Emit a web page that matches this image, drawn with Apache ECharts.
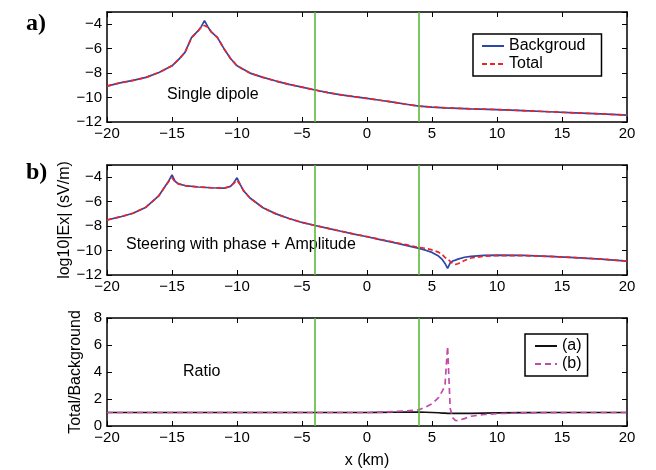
<!DOCTYPE html>
<html>
<head>
<meta charset="utf-8">
<script src="https://cdn.jsdelivr.net/npm/echarts@6/dist/echarts.min.js"></script>
<style>html,body{margin:0;padding:0;background:#fff}#c{width:656px;height:470px}</style>
</head>
<body>
<div id="c"></div>
<script>
// ---- data ----
var xTicks = [-20, -15, -10, -5, 0, 5, 10, 15, 20];
var boundaryX = [-4, 4];

var xsA = [-20,-19,-18,-17,-16,-15,-14.5,-14,-13.5,-13,-12.75,-12.5,-12.25,-12,-11.5,-11,-10.5,-10,-9,-8,-7,-6,-5,-4,-3,-2,-1,0,1,2,3,4,5,6,8,10,12,14,16,18,20];
var bgA  = [-9.06,-8.8,-8.6,-8.35,-7.95,-7.4,-6.9,-6.3,-5.1,-4.55,-4.2,-3.7,-4.2,-4.6,-5.1,-6.0,-6.8,-7.4,-8.0,-8.35,-8.65,-8.92,-9.15,-9.38,-9.6,-9.78,-9.93,-10.07,-10.22,-10.38,-10.55,-10.7,-10.78,-10.84,-10.92,-10.98,-11.07,-11.16,-11.25,-11.34,-11.43];
var totA = [-9.06,-8.8,-8.6,-8.35,-7.95,-7.4,-6.9,-6.3,-5.1,-4.55,-4.25,-4.1,-4.25,-4.6,-5.1,-6.0,-6.8,-7.4,-8.0,-8.35,-8.65,-8.92,-9.15,-9.38,-9.6,-9.78,-9.93,-10.07,-10.22,-10.38,-10.55,-10.7,-10.78,-10.84,-10.92,-10.98,-11.07,-11.16,-11.25,-11.34,-11.43];

var xsB = [-20,-19,-18,-17,-16,-15.5,-15.25,-15,-14.75,-14.5,-14,-13,-12,-11,-10.5,-10.25,-10,-9.75,-9.5,-9,-8,-7,-6,-5,-4,-3,-2,-1,0,1,2,3,4,4.5,5,5.5,5.8,6,6.1,6.2,6.4,6.6,6.8,7,7.5,8,9,10,12,14,16,18,20];
var bgB  = [-7.5,-7.25,-6.95,-6.45,-5.5,-4.7,-4.3,-3.8,-4.35,-4.55,-4.68,-4.8,-4.86,-4.9,-4.75,-4.45,-4.05,-4.6,-5.1,-5.7,-6.5,-7.0,-7.38,-7.7,-7.95,-8.18,-8.42,-8.65,-8.87,
            -9.1,-9.33,-9.57,-9.82,-9.97,-10.15,-10.45,-10.75,-11.05,-11.25,-11.46,-11.0,-10.85,-10.78,-10.7,-10.55,-10.47,-10.4,-10.37,-10.4,-10.48,-10.58,-10.7,-10.86];
var totB = [-7.5,-7.25,-6.95,-6.45,-5.5,-4.7,-4.35,-4.05,-4.4,-4.55,-4.68,-4.8,-4.86,-4.9,-4.75,-4.5,-4.25,-4.62,-5.1,-5.7,-6.5,-7.0,-7.38,-7.7,-7.95,-8.18,-8.42,-8.65,-8.86,
            -9.08,-9.3,-9.52,-9.74,-9.82,-9.95,-10.13,-10.34,-10.57,-10.6,-10.69,-10.89,-11.07,-11.13,-11.08,-10.81,-10.61,-10.47,-10.41,-10.41,-10.48,-10.58,-10.7,-10.86];

var ratioA = [1.0,1.0,1.0,1.0,1.0,1.0,1.0,1.0,1.0,1.0,1.0,1.0,1.0,1.0,1.0,1.0,1.0,1.0,1.0,1.0,1.0,1.0,1.0,1.0,1.0,1.0,1.0,1.0,1.0,
              1.01,1.02,1.03,1.03,1.02,1.0,0.98,0.96,0.95,0.95,0.94,0.93,0.93,0.93,0.93,0.93,0.94,0.96,0.97,0.99,1.0,1.0,1.0,1.0];
var ratioB = [1.0,1.0,1.0,1.0,1.0,1.0,1.0,1.0,1.0,1.0,1.0,1.0,1.0,1.0,1.0,1.0,1.0,1.0,1.0,1.0,1.0,1.0,1.0,1.0,1.0,1.0,1.0,1.0,1.0,
              1.03,1.07,1.12,1.2,1.4,1.65,2.1,2.6,3.0,4.5,5.9,1.3,0.6,0.42,0.4,0.55,0.72,0.85,0.92,0.97,0.99,1.0,1.0,1.0];

// ---- helpers ----
function pairs(xs, ys){ return xs.map(function(x,i){ return [x, ys[i]]; }); }
var FONT = "'Liberation Sans', Arial, Helvetica, sans-serif";
function fmt(v){ return String(v).replace('-', '\u2212'); }
var grids = [
  {left:107, top:12, width:520, height:110},
  {left:107, top:165, width:520, height:110},
  {left:107, top:318, width:520, height:110}
];
var axisLine = {show:true, onZero:false, lineStyle:{color:'#000', width:1.5}};
var tick = {show:true, inside:true, length:5, lineStyle:{color:'#000', width:1}};
var xAxes = [], yAxes = [];
var yRanges = [[-12,-3,2],[-12,-3,2],[0,8,2]];
for (var g=0; g<3; g++){
  xAxes.push({type:'value', gridIndex:g, position:'bottom', min:-20, max:20, interval:5,
    axisLine:axisLine, axisTick:tick, splitLine:{show:false},
    axisLabel:{color:'#000', fontFamily:FONT, fontSize:15, margin:4, formatter:fmt},
    name: g===2 ? 'x (km)' : '', nameLocation:'middle', nameGap:27, nameMoveOverlap:false,
    nameTextStyle:{color:'#000', fontFamily:FONT, fontSize:16}});
  xAxes.push({type:'value', gridIndex:g, position:'top', min:-20, max:20, interval:5,
    axisLine:axisLine, axisTick:tick, splitLine:{show:false}, axisLabel:{show:false}});
  var r = yRanges[g];
  yAxes.push({type:'value', gridIndex:g, position:'left', min:r[0], max:r[1], interval:r[2],
    axisLine:axisLine, axisTick:tick, splitLine:{show:false},
    axisLabel:{color:'#000', fontFamily:FONT, fontSize:15, margin:5,
      formatter:function(v){ return v === -3 ? '' : fmt(v); }},
    name: g===1 ? 'log10|Ex| (sV/m)' : (g===2 ? 'Total/Background' : ''),
    nameLocation:'middle', nameGap: g===1 ? 34 : 23, nameMoveOverlap:false,
    nameTextStyle:{color:'#000', fontFamily:FONT, fontSize:16}});
  yAxes.push({type:'value', gridIndex:g, position:'right', min:r[0], max:r[1], interval:r[2],
    axisLine:axisLine, axisTick:tick, splitLine:{show:false}, axisLabel:{show:false}});
}
function vlines(){
  return {silent:true, symbol:['none','none'], label:{show:false},
    lineStyle:{color:'#5cb83c', width:1.6, type:'solid'},
    data: boundaryX.map(function(x){ return {xAxis:x}; })};
}
var BLUE = '#2b48a8', RED = '#ee2229', MAG = '#c34aa8';
function line(name, g, data, color, dash, ml){
  var s = {name:name, type:'line', xAxisIndex:2*g, yAxisIndex:2*g, data:data,
    symbol:'none', showSymbol:false, animation:false,
    lineStyle:{color:color, width:1.7, type:dash}, itemStyle:{color:color}};
  if (ml) s.markLine = vlines();
  return s;
}
var series = [
  line('Backgroud', 0, pairs(xsA, bgA), BLUE, 'solid', true),
  line('Total', 0, pairs(xsA, totA), RED, [5,3]),
  line('bgB', 1, pairs(xsB, bgB), BLUE, 'solid', true),
  line('totB', 1, pairs(xsB, totB), RED, [5,3]),
  line('(a)', 2, pairs(xsB, ratioA), '#111', 'solid', true),
  line('(b)', 2, pairs(xsB, ratioB), MAG, [6,4])
];
var legStyle = {orient:'vertical', borderColor:'#000', borderWidth:1.5, backgroundColor:'#fff',
  itemWidth:22, itemHeight:14, itemGap:2,
  itemStyle:{opacity:0, borderWidth:0},
  textStyle:{color:'#000', fontFamily:FONT, fontSize:16}};
var legends = [
  Object.assign({}, legStyle, {left:473, top:34, padding:[4,16,4,8], data:['Backgroud','Total']}),
  Object.assign({}, legStyle, {left:525, top:334, padding:[4,6,4,9], data:['(a)','(b)']})
];
function txt(x, y, s, extra){
  return {type:'text', left:x, top:y, style:Object.assign({text:s, fill:'#000', font:'16px ' + FONT}, extra||{})};
}
var chart = echarts.init(document.getElementById('c'), null, {renderer:'canvas'});
chart.setOption({
  animation:false,
  grid:grids, xAxis:xAxes, yAxis:yAxes, series:series, legend:legends,
  graphic:[
    txt(167, 87, 'Single dipole'),
    txt(126, 237, 'Steering with phase + Amplitude'),
    txt(183, 364, 'Ratio'),
    txt(26, 12, 'a)', {font:'bold 24px "Liberation Serif", "Times New Roman", serif'}),
    txt(26, 161, 'b)', {font:'bold 24px "Liberation Serif", "Times New Roman", serif'})
  ]
});
</script>
</body>
</html>
